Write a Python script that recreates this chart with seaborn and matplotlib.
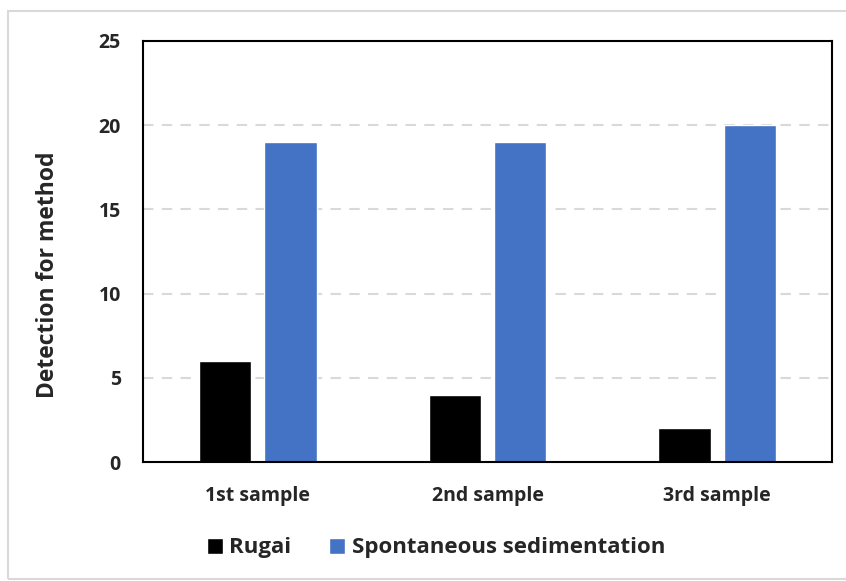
import pandas as pd
import matplotlib.pyplot as plt
import seaborn as sns
from matplotlib.patches import Rectangle

# values
samples = ['1st sample', '2nd sample', '3rd sample']
methods = ['Rugai', 'Spontaneous sedimentation']
rugai = [6, 4, 2]
spontaneous = [19, 19, 20]
yticks = [0, 5, 10, 15, 20, 25]

df = pd.DataFrame({
    'sample': samples * 2,
    'method': [methods[0]] * 3 + [methods[1]] * 3,
    'value': rugai + spontaneous,
})

sns.set_theme(style='white')
plt.rcParams['font.family'] = ['Open Sans', 'DejaVu Sans']

fig = plt.figure(figsize=(8.46, 5.81), dpi=100)
ax = fig.add_axes([143 / 846, 1 - 462 / 581, 689 / 846, 421 / 581])

sns.barplot(data=df, x='sample', y='value', hue='method', ax=ax,
            palette=['#000000', '#4472C4'], width=0.57, gap=0.2,
            saturation=1, legend=True)

ax.set_ylim(0, 25)
ax.set_yticks(yticks)
ax.set_yticklabels([str(t) for t in yticks], fontsize=14, fontweight='bold')
ax.tick_params(axis='y', pad=16, length=0)
ax.tick_params(axis='x', pad=17, length=0)
for lbl in ax.get_xticklabels():
    lbl.set_fontsize(14)
    lbl.set_fontweight('bold')
ax.set_xlabel('')
ax.set_ylabel('Detection for method', fontsize=16.5, fontweight='bold')
ax.yaxis.set_label_coords(-83 / 689, (462 - 275) / 421)

# dashed grid lines, not at the top
for y in yticks[1:-1]:
    ax.axhline(y, color='#D9D9D9', linestyle=(0, (5, 4)), linewidth=1.5, zorder=0)

for s in ax.spines.values():
    s.set_visible(True)
    s.set_color('black')
    s.set_linewidth(1.5)

handles, labels = ax.get_legend_handles_labels()
ax.legend_.remove()
fig.legend(handles, labels, loc='center', bbox_to_anchor=(436 / 846, 1 - 548 / 581),
           ncol=2, frameon=False, prop={'size': 16, 'weight': 'bold'},
           handlelength=0.72, handleheight=0.72, handletextpad=0.3, columnspacing=1.7)

# light outer border like the source image
fig.patches.append(Rectangle((8 / 846, 2 / 581), 1.0, 1 - 13 / 581, transform=fig.transFigure,
                             fill=False, edgecolor='#D9D9D9', linewidth=1.5))

fig.savefig('out.png', dpi=100)
